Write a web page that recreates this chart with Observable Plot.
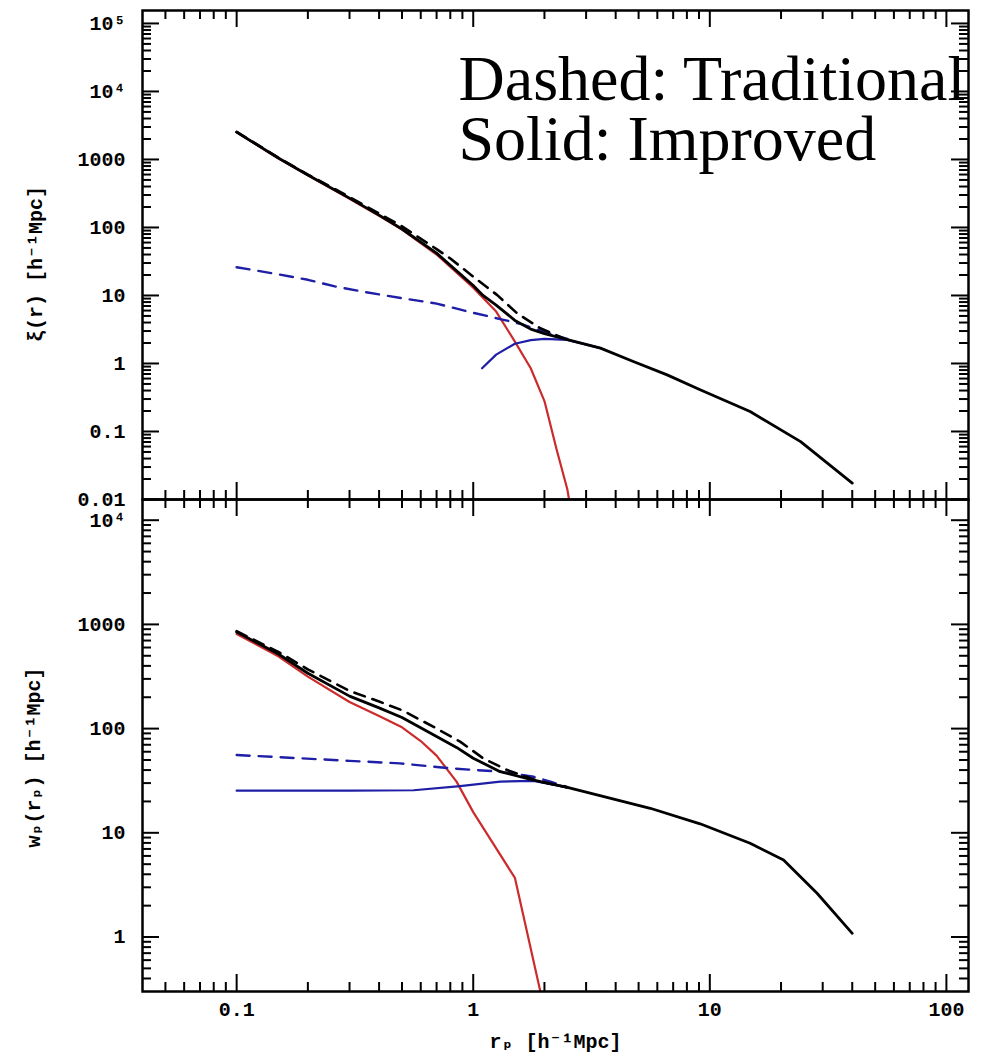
<!DOCTYPE html>
<html>
<head>
<meta charset="utf-8">
<script src="https://cdn.jsdelivr.net/npm/d3@7"></script>
<script src="https://cdn.jsdelivr.net/npm/@observablehq/plot@0.6"></script>
<style>
  body { margin: 0; background: #fff; }
  #chart { width: 983px; height: 1063px; position: relative; }
  #chart svg { display: block; overflow: visible; background: transparent; }
</style>
</head>
<body>
<div id="chart"></div>
<script>
// ---- shared x axis: projected separation r_p [h^-1 Mpc] ----
const xDomain = [0.04, 124];
const xMajor = [0.1, 1, 10, 100];
const xMajorLabels = ["0.1", "1", "10", "100"];

// ---- upper panel: real-space correlation function xi(r) ----
const xiDomain = [0.01, 1.55e5];
const xiMajor = [0.01, 0.1, 1, 10, 100, 1000, 1e4, 1e5];
const xiMajorLabels = ["0.01", "0.1", "1", "10", "100", "1000", "10⁴", "10⁵"];

// total, improved model (solid black)
const xiR_improved = [0.1, 0.15, 0.2, 0.3, 0.4, 0.5, 0.7, 1.0, 1.1, 1.25, 1.5, 1.75, 2.0, 2.5, 3.45, 4.75, 6.6, 9.1, 14.8, 24.2, 40];
const xi_improved  = [2520, 1050, 590, 270, 152, 95, 42, 14, 10, 7.2, 4.3, 3.2, 2.75, 2.25, 1.68, 1.07, 0.68, 0.41, 0.197, 0.071, 0.0174];
// total, traditional model (dashed black)
const xiR_traditional = [0.1, 0.15, 0.2, 0.3, 0.4, 0.5, 0.7, 0.8, 1.04, 1.26, 1.53, 1.92, 2.4];
const xi_traditional  = [2546, 1060, 600, 280, 160, 104, 48, 35, 17, 10.2, 5.5, 3.3, 2.35];
// one-halo term (red)
const xiR_oneHalo = [0.1, 0.15, 0.2, 0.3, 0.4, 0.5, 0.7, 1.0, 1.25, 1.5, 1.75, 2.0, 2.25, 2.5, 2.75];
const xi_oneHalo  = [2500, 1040, 585, 265, 148, 93, 40, 13, 5.8, 2.1, 0.85, 0.28, 0.055, 0.014, 0.002];
// two-halo term, traditional (dashed blue)
const xiR_twoHaloTrad = [0.1, 0.15, 0.2, 0.26, 0.35, 0.5, 0.7, 0.95, 1.3, 1.6, 2.0, 2.5];
const xi_twoHaloTrad  = [26, 20.5, 17, 13.6, 11.2, 9.1, 7.6, 5.8, 4.5, 3.8, 2.9, 2.3];
// two-halo term, improved (solid blue)
const xiR_twoHaloImp = [1.09, 1.25, 1.5, 1.75, 2.0, 2.5, 3.45];
const xi_twoHaloImp  = [0.85, 1.35, 1.95, 2.2, 2.3, 2.22, 1.68];

// ---- lower panel: projected correlation function w_p(r_p) ----
const wpDomain = [0.3, 1.58e4];
const wpMajor = [1, 10, 100, 1000, 1e4];
const wpMajorLabels = ["1", "10", "100", "1000", "10⁴"];

const wpR_improved = [0.1, 0.15, 0.2, 0.3, 0.4, 0.5, 0.7, 0.85, 1.0, 1.3, 1.8, 2.5, 3.5, 5.6, 9.1, 14.8, 20.5, 28.4, 40];
const wp_improved  = [845, 520, 340, 205, 158, 128, 84, 66, 52, 38.6, 32.1, 27.3, 22.5, 17.2, 12.2, 7.93, 5.48, 2.63, 1.085];
const wpR_traditional = [0.1, 0.15, 0.2, 0.3, 0.4, 0.5, 0.68, 0.88, 1.1, 1.39, 1.92, 2.5];
const wp_traditional  = [860, 545, 370, 230, 182, 150, 104, 75, 52, 40, 31, 27.3];
const wpR_oneHalo = [0.1, 0.15, 0.2, 0.3, 0.4, 0.5, 0.6, 0.7, 0.85, 1.0, 1.5, 2.0];
const wp_oneHalo  = [810, 495, 315, 180, 132, 103, 76, 55, 31, 15.8, 3.7, 0.2];
const wpR_twoHaloTrad = [0.1, 0.186, 0.3, 0.49, 0.8, 1.3, 1.8, 2.12, 2.5];
const wp_twoHaloTrad  = [55.8, 51.9, 49, 46.4, 41.6, 38.6, 34.5, 31, 27.5];
const wpR_twoHaloImp = [0.1, 0.3, 0.56, 0.88, 1.3, 1.8, 2.5];
const wp_twoHaloImp  = [25.4, 25.4, 25.6, 28.1, 31, 31.5, 27.3];

const legendLines = ["Dashed: Traditional", "Solid: Improved"];

// ---- helpers ----
const rows = (rs, vs) => rs.map((r, i) => ({r, v: vs[i]}));

// minor log ticks (2..9 × each decade) inside a domain
function minorTicks([lo, hi]) {
  const out = [];
  for (let e = Math.floor(Math.log10(lo)); e <= Math.ceil(Math.log10(hi)); e++) {
    for (let k = 2; k <= 9; k++) {
      const v = k * Math.pow(10, e);
      if (v > lo * 1.001 && v < hi * 0.999) out.push(+v.toPrecision(3));
    }
  }
  return out;
}

const W = 983, ML = 142, MR = 15;
const innerW = W - ML - MR;
const BIG = 17, SMALL = 9, TICKW = 2;
const RED = "#cc2b2b", BLUE = "#1e1ea6", BLACK = "#000";

// inward ticks on all four sides of a panel
function frameTicks(yDomain, yMajor, innerH) {
  const xm = minorTicks(xDomain), ym = minorTicks(yDomain);
  const id = d => d;
  return [
    Plot.ruleX(xMajor, {x: id, insetTop: innerH - BIG, strokeWidth: TICKW}),
    Plot.ruleX(xm, {x: id, insetTop: innerH - SMALL, strokeWidth: TICKW}),
    Plot.ruleX(xMajor, {x: id, insetBottom: innerH - BIG, strokeWidth: TICKW}),
    Plot.ruleX(xm, {x: id, insetBottom: innerH - SMALL, strokeWidth: TICKW}),
    Plot.ruleY(yMajor, {y: id, insetRight: innerW - BIG, strokeWidth: TICKW}),
    Plot.ruleY(ym, {y: id, insetRight: innerW - SMALL, strokeWidth: TICKW}),
    Plot.ruleY(yMajor, {y: id, insetLeft: innerW - BIG, strokeWidth: TICKW}),
    Plot.ruleY(ym, {y: id, insetLeft: innerW - SMALL, strokeWidth: TICKW})
  ];
}

function curves(s) {
  return [
    Plot.line(rows(s.oneR, s.one), {x: "r", y: "v", stroke: RED, strokeWidth: 2.2, clip: true}),
    Plot.line(rows(s.tradTwoR, s.tradTwo), {x: "r", y: "v", stroke: BLUE, strokeWidth: 2.4, strokeDasharray: "13,9", clip: true}),
    Plot.line(rows(s.impTwoR, s.impTwo), {x: "r", y: "v", stroke: BLUE, strokeWidth: 2.2, clip: true}),
    Plot.line(rows(s.tradR, s.trad), {x: "r", y: "v", stroke: BLACK, strokeWidth: 2.6, strokeDasharray: "11,8", clip: true}),
    Plot.line(rows(s.impR, s.imp), {x: "r", y: "v", stroke: BLACK, strokeWidth: 2.8, clip: true})
  ];
}

const baseStyle = {fontFamily: "'Liberation Mono', 'DejaVu Sans Mono', monospace", fontSize: "20px", fontWeight: "bold", overflow: "visible", background: "transparent"};
const tickLabelOpts = {frameAnchor: "left", dx: -17, textAnchor: "end", letterSpacing: "0.5px"};
const titleOpts = {textAnchor: "middle", letterSpacing: "3px"};

// ---- upper panel ----
const topH = 499, topMT = 10, topMB = 0;
const topPlot = Plot.plot({
  width: W, height: topH,
  marginLeft: ML, marginRight: MR, marginTop: topMT, marginBottom: topMB,
  style: baseStyle,
  x: {type: "log", domain: xDomain, axis: null},
  y: {type: "log", domain: xiDomain, axis: null},
  marks: [
    ...curves({
      oneR: xiR_oneHalo, one: xi_oneHalo,
      tradTwoR: xiR_twoHaloTrad, tradTwo: xi_twoHaloTrad,
      impTwoR: xiR_twoHaloImp, impTwo: xi_twoHaloImp,
      tradR: xiR_traditional, trad: xi_traditional,
      impR: xiR_improved, imp: xi_improved
    }),
    ...frameTicks(xiDomain, xiMajor, topH - topMT - topMB),
    Plot.frame({strokeWidth: 2.5}),
    Plot.text(xiMajor, {y: d => d, text: (d, i) => xiMajorLabels[i], ...tickLabelOpts}),
    Plot.text(["ξ(r) [h⁻¹Mpc]"], {text: d => d, frameAnchor: "left", dx: -107, dy: 9, rotate: -90, ...titleOpts}),
    Plot.text([legendLines.join("\n")], {
      text: d => d, frameAnchor: "top-left", dx: 316, dy: 47, textAnchor: "start", lineAnchor: "top",
      lineHeight: 0.94, fontFamily: "'Liberation Serif', 'DejaVu Serif', serif", fontSize: 64, fontWeight: "normal",
      letterSpacing: "0px", fill: "#000"
    })
  ]
});

// ---- lower panel ----
const botH = 1063 - topH, botMT = 0, botMB = 72;
const botPlot = Plot.plot({
  width: W, height: botH,
  marginLeft: ML, marginRight: MR, marginTop: botMT, marginBottom: botMB,
  style: baseStyle,
  x: {type: "log", domain: xDomain, axis: null},
  y: {type: "log", domain: wpDomain, axis: null},
  marks: [
    ...curves({
      oneR: wpR_oneHalo, one: wp_oneHalo,
      tradTwoR: wpR_twoHaloTrad, tradTwo: wp_twoHaloTrad,
      impTwoR: wpR_twoHaloImp, impTwo: wp_twoHaloImp,
      tradR: wpR_traditional, trad: wp_traditional,
      impR: wpR_improved, imp: wp_improved
    }),
    ...frameTicks(wpDomain, wpMajor, botH - botMT - botMB),
    Plot.frame({strokeWidth: 2.5}),
    Plot.text(wpMajor, {y: d => d, text: (d, i) => wpMajorLabels[i], ...tickLabelOpts}),
    Plot.text(xMajor, {x: d => d, text: (d, i) => xMajorLabels[i], frameAnchor: "bottom", dy: 24, letterSpacing: "0.5px"}),
    Plot.text(["wₚ(rₚ) [h⁻¹Mpc]"], {text: d => d, frameAnchor: "left", dx: -109, dy: 12, rotate: -90, ...titleOpts}),
    Plot.text(["rₚ [h⁻¹Mpc]"], {text: d => d, frameAnchor: "bottom", dy: 56, ...titleOpts})
  ]
});

const chart = document.getElementById("chart");
chart.append(topPlot, botPlot);
</script>
</body>
</html>
